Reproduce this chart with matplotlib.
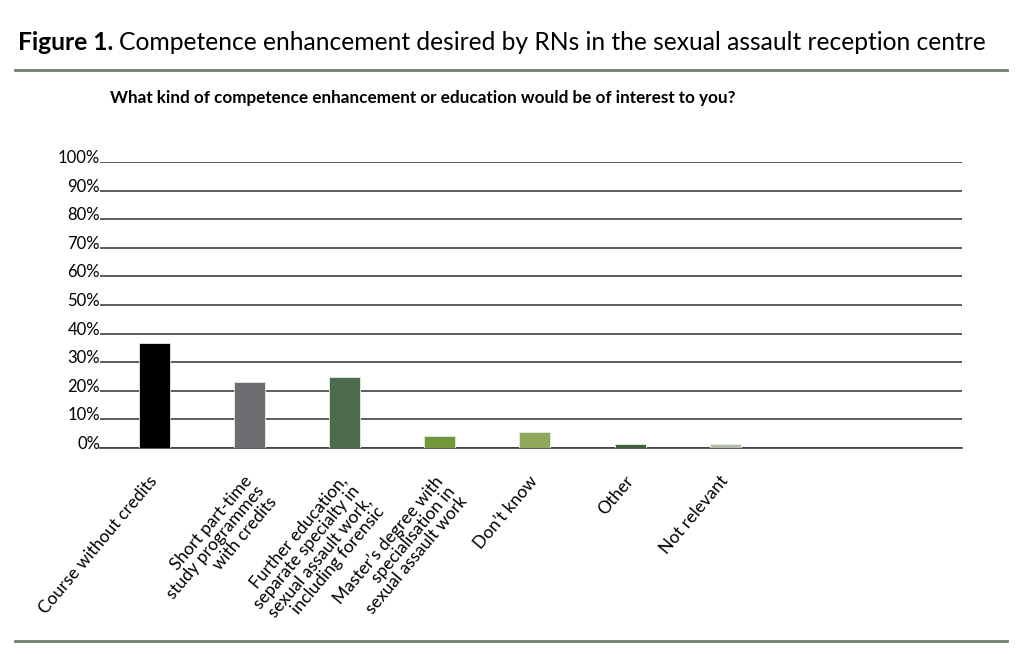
import matplotlib
matplotlib.use("Agg")
import matplotlib.pyplot as plt
from matplotlib.lines import Line2D
from matplotlib.transforms import ScaledTranslation

categories = [
    "Course without credits",
    "Short part-time\nstudy programmes\nwith credits",
    "Further education,\nseparate specialty in\nsexual assault work,\nincluding forensic",
    "Master\u2019s degree with\nspecialisation in\nsexual assault work",
    "Don\u2019t know",
    "Other",
    "Not relevant",
]
values = [36.7, 23.1, 24.8, 4.3, 5.5, 1.4, 1.4]
bar_colors = ["#000000", "#6d6e72", "#4b6b4b", "#74973b", "#8ea75b", "#3f5f3f", "#b3bba9"]
y_ticks = list(range(0, 101, 10))

plt.rcParams["font.family"] = ["Lato", "DejaVu Sans"]

fig = plt.figure(figsize=(10.24, 6.59), dpi=100)

# header: bold "Figure 1." followed by regular caption
title_size = 17.7
title = fig.text(0.018, 0.936, "Figure 1.", fontsize=title_size, fontweight="bold",
                 va="center", ha="left")
fig.canvas.draw()
bb = title.get_window_extent()
fig.text(bb.x1 / fig.bbox.width + 0.005, 0.936,
         "Competence enhancement desired by RNs in the sexual assault reception centre",
         fontsize=title_size, va="center", ha="left")

rule_color = "#6f8068"
fig.add_artist(Line2D([0.015, 0.983], [0.894, 0.894], color=rule_color, lw=2, transform=fig.transFigure))
fig.add_artist(Line2D([0.015, 0.983], [0.027, 0.027], color=rule_color, lw=2, transform=fig.transFigure))

fig.text(0.107, 0.851, "What kind of competence enhancement or education would be of interest to you?",
         fontsize=12.3, fontweight="bold", va="center", ha="left")

ax = fig.add_axes([0.0977, 0.3202, 0.8413, 0.4338])
x = list(range(len(categories)))
ax.bar(x, values, width=0.325, color=bar_colors, edgecolor="#e8ece4", linewidth=0.6, zorder=3)

ax.set_xlim(-0.567, 8.48)
ax.set_ylim(0, 100)
ax.set_yticks(y_ticks)
ax.set_yticklabels([f"{t}%" for t in y_ticks], fontsize=12)
ax.yaxis.grid(True, color="#404040", lw=1.2, zorder=0)
ax.tick_params(axis="y", length=0, pad=0)
shift_up = ScaledTranslation(0, 4 / 100, fig.dpi_scale_trans)
for lbl in ax.get_yticklabels():
    lbl.set_verticalalignment("center")
    lbl.set_transform(lbl.get_transform() + shift_up)

ax.set_xticks(x)
ax.set_xticklabels(categories, rotation=50, ha="right", va="top",
                   rotation_mode="anchor", fontsize=12.5, linespacing=1.0)
ax.tick_params(axis="x", length=0, pad=18)
shift_left = ScaledTranslation(-6 / 100, 0, fig.dpi_scale_trans)
for lbl in ax.get_xticklabels():
    lbl.set_multialignment("right")
    lbl.set_transform(lbl.get_transform() + shift_left)

for side in ["top", "right", "left"]:
    ax.spines[side].set_visible(False)
ax.spines["bottom"].set_color("#404040")
ax.spines["bottom"].set_linewidth(1.2)

fig.savefig("out.png", dpi=100)
